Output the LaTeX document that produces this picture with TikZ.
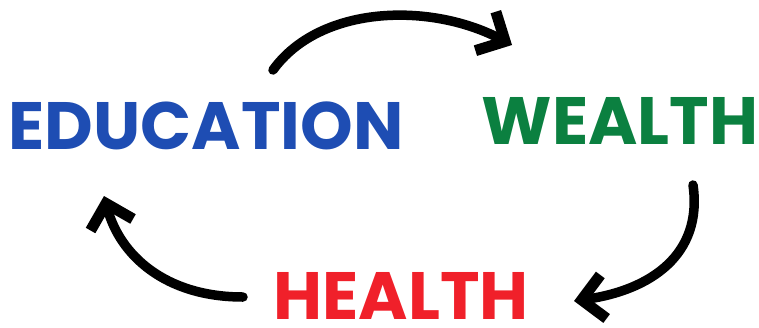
\documentclass[tikz,border=0pt]{standalone}
\usepackage{fontspec}
\setmainfont{Poppins}[BoldFont={* Bold}]
\usetikzlibrary{arrows.meta}
\definecolor{edublue}{HTML}{1E4DB3}
\definecolor{wealthgreen}{HTML}{0B8040}
\definecolor{healthred}{HTML}{F0202A}
\begin{document}
\begin{tikzpicture}[x=1pt,y=-1pt,
  word/.style={font=\bfseries\fontsize{67}{67}\selectfont, inner sep=0pt, anchor=base, text depth=0pt},
  loop/.style={line width=9.5pt, line cap=round, -{Straight Barb[length=22pt,width=44pt,line width=11pt]}}]
\useasboundingbox (0,0) rectangle (759,327);
\node[word, text=edublue] (edu) at (206,149) {EDUCATION};
\node[word, text=wealthgreen] (wealth) at (620,144) {WEALTH};
\node[word, text=healthred] (health) at (401,319) {HEALTH};
\coordinate (a1) at (273,70);
\coordinate (b1) at (512,45);
\coordinate (a2) at (693,185);
\coordinate (b2) at (574,301);
\coordinate (a3) at (243,297);
\coordinate (b3) at (104,196);
\draw[loop] (a1) .. controls (320,5) and (430,2) .. (b1);
\draw[loop] (a2) .. controls (703,255) and (650,290) .. (b2);
\draw[loop] (a3) .. controls (165,297) and (120,255) .. (b3);
\end{tikzpicture}
\end{document}
